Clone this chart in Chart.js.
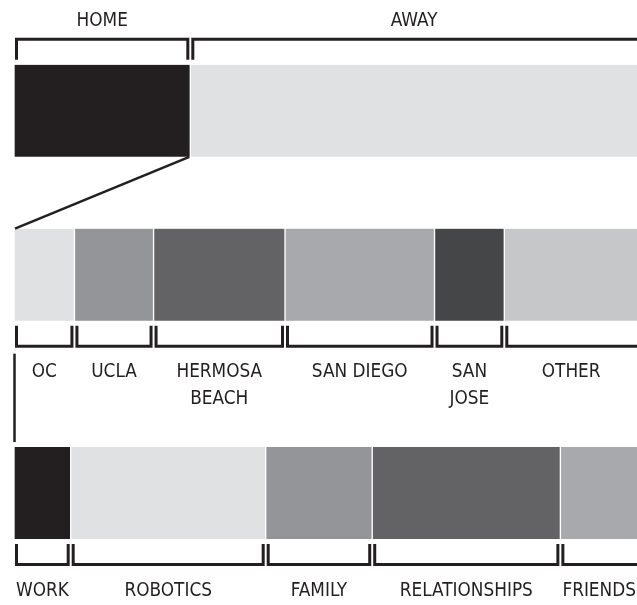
<!DOCTYPE html>
<html>
<head>
<meta charset="utf-8">
<script src="https://cdn.jsdelivr.net/npm/chart.js@4/dist/chart.umd.min.js"></script>
<style>
  html, body { margin: 0; padding: 0; background: #fff; }
  canvas { display: block; }
</style>
</head>
<body>
<canvas id="split-chart" width="637" height="605"></canvas>
<script>
// DATA (share of time, % of the full bar width)
const whereLabels = ['HOME', 'AWAY']
const whereValues = [28.3, 72.5]

const placeLabels = ['OC', 'UCLA', 'HERMOSA\nBEACH', 'SAN DIEGO', 'SAN\nJOSE', 'OTHER']
const placeValues = [9.7, 12.7, 21.1, 24.0, 11.2, 25]

const topicLabels = ['WORK', 'ROBOTICS', 'FAMILY', 'RELATIONSHIPS', 'FRIENDS']
const topicValues = [9.1, 31.3, 17.1, 30.2, 15]

// styles
const INK = '#231f20'
const whereColors = ['#231f20', '#e0e1e3']
const placeColors = ['#e0e1e3', '#939598', '#636365', '#a7a9ac', '#454648', '#c6c7c9']
const topicColors = ['#231f20', '#e0e1e3', '#939598', '#636365', '#a7a9ac']
const rowSlot = [0, 3, 7] // vertical slot of each bar
const FONT = '20px "Liberation Sans Narrow", "DejaVu Sans Condensed", sans-serif'
const TEXT_SQUEEZE = 0.94

const rows = [
    { labels: whereLabels, values: whereValues, colors: whereColors },
    { labels: placeLabels, values: placeValues, colors: placeColors },
    { labels: topicLabels, values: topicValues, colors: topicColors },
]

const datasets = []
rows.forEach((row, r) => {
    row.values.forEach((v, i) => {
        datasets.push({
            label: row.labels[i],
            data: [{ x: v, y: rowSlot[r] }],
            backgroundColor: row.colors[i],
            borderColor: '#ffffff',
            borderWidth: { left: 1, right: 1, top: 0, bottom: 0 },
            borderSkipped: false,
            row: r,
        })
    })
})

// brackets, labels and connector lines
const bracketPlugin = {
    id: 'brackets',
    afterDatasetsDraw(chart) {
        const ctx = chart.ctx
        const area = chart.chartArea
        const bars = chart.data.datasets.map((ds, i) => {
            const el = chart.getDatasetMeta(i).data[0]
            const p = el.getProps(['x', 'y', 'base', 'height'], true)
            return {
                row: ds.row,
                text: ds.label,
                left: Math.min(p.base, p.x) + 1,
                right: Math.max(p.base, p.x) - 1,
                top: p.y - p.height / 2,
                bottom: p.y + p.height / 2,
            }
        })

        ctx.save()
        ctx.strokeStyle = INK
        ctx.fillStyle = INK
        ctx.lineCap = 'butt'
        ctx.lineJoin = 'miter'

        bars.forEach(b => {
            const above = b.row === 0
            const l = b.left + 1.5
            const r = b.right - 1.5
            const yEnd = above ? b.top - 5 : b.bottom + 5
            const yLine = above ? b.top - 25.5 : b.bottom + 25.5
            ctx.lineWidth = 3
            ctx.beginPath()
            ctx.moveTo(l, yEnd)
            ctx.lineTo(l, yLine)
            ctx.lineTo(r, yLine)
            ctx.lineTo(r, yEnd)
            ctx.stroke()

            const cx = (Math.max(b.left, area.left) + Math.min(b.right, chart.width)) / 2
            const lines = b.text.split('\n')
            lines.forEach((t, k) => {
                const ty = above ? b.top - 44.5 : b.bottom + 51.5 + k * 26.5
                ctx.save()
                ctx.translate(cx, ty)
                ctx.scale(TEXT_SQUEEZE, 1)
                ctx.font = FONT
                ctx.textAlign = 'center'
                ctx.textBaseline = 'middle'
                ctx.fillText(t, 0, 0)
                ctx.restore()
            })
        })

        // diagonal from HOME corner to the places bar
        const home = bars.find(b => b.row === 0)
        const firstPlace = bars.find(b => b.row === 1)
        const firstTopic = bars.find(b => b.row === 2)
        ctx.lineWidth = 2.5
        ctx.beginPath()
        ctx.moveTo(home.right, home.bottom)
        ctx.lineTo(firstPlace.left, firstPlace.top)
        ctx.stroke()

        // vertical link from places to topics
        ctx.beginPath()
        ctx.moveTo(firstPlace.left - 0.5, firstPlace.bottom + 33)
        ctx.lineTo(firstPlace.left - 0.5, firstTopic.top - 5)
        ctx.stroke()
        ctx.restore()
    }
}

const ctx = document.getElementById('split-chart').getContext('2d')

const splitChart = new Chart(ctx, {
    type: 'bar',
    data: { datasets: datasets },
    options: {
        responsive: false,
        animation: false,
        indexAxis: 'y',
        barThickness: 92,
        layout: { padding: { left: 14, right: 0, top: 0, bottom: 0 } },
        plugins: {
            legend: { display: false },
            tooltip: { enabled: false },
        },
        scales: {
            x: {
                type: 'linear',
                stacked: true,
                min: 0,
                max: 100,
                display: false,
            },
            y: {
                type: 'linear',
                stacked: true,
                reverse: true,
                offset: false,
                grace: 0,
                min: -2.03,
                max: 9.05,
                display: false,
            }
        }
    },
    plugins: [bracketPlugin]
})
</script>
</body>
</html>
